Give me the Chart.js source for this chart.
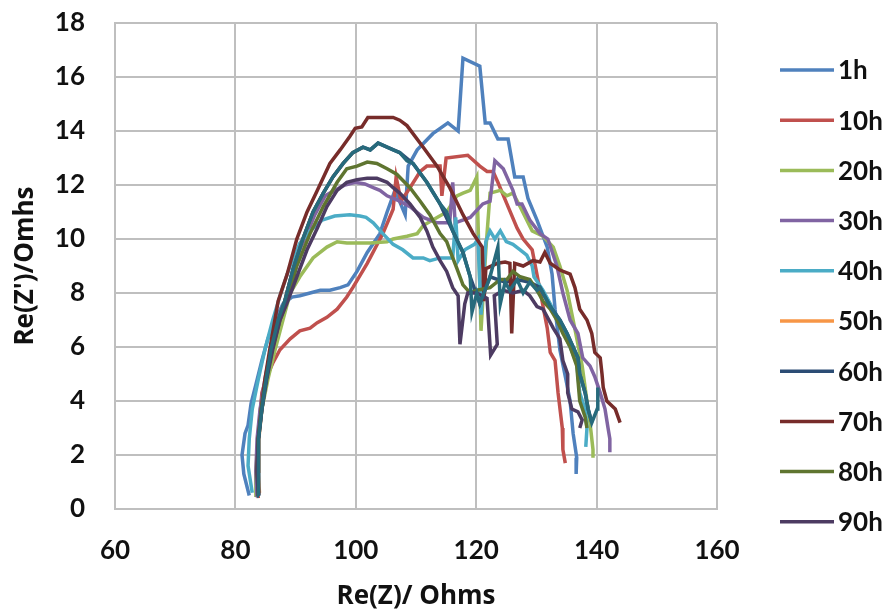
<!DOCTYPE html>
<html>
<head>
<meta charset="utf-8">
<script src="https://cdn.jsdelivr.net/npm/chart.js@4/dist/chart.umd.min.js"></script>
<style>
  html, body { margin: 0; padding: 0; background: #fff; }
  #wrap { width: 889px; height: 613px; }
</style>
</head>
<body>
<div id="wrap"><canvas id="chart" width="889" height="613"></canvas></div>
<script>
// series labels + colours (Excel 2010 palette)
const labels = ['1h', '10h', '20h', '30h', '40h', '50h', '60h', '70h', '80h', '90h', ''];
const colors = ['#4F81BD', '#C0504D', '#9BBB59', '#8064A2', '#4BACC6', '#F79646',
                '#2C4D75', '#772C2A', '#5F7530', '#4D3B62', '#276A7C'];

// axis ticks
const xTicks = [60, 80, 100, 120, 140, 160];
const yTicks = [0, 2, 4, 6, 8, 10, 12, 14, 16, 18];

// [Re(Z), Re(Z')]
const s1h = [[82.3,0.5],[81.4,1.3],[81.1,2.0],[81.6,2.8],[82.1,3.1],[82.6,3.9],[83.4,4.6],[84.4,5.5],
  [85.4,6.3],[86.6,7.0],[87.9,7.6],[89.4,7.85],[90.7,7.9],[92.4,8.0],[94.1,8.1],[95.7,8.1],[97.4,8.2],
  [98.7,8.3],[100.2,8.8],[101.9,9.5],[104.0,10.2],[105.2,11.0],[106.5,11.8],[108.2,10.9],[108.7,12.7],
  [110.2,13.3],[112.8,13.9],[115.3,14.3],[117.0,14.0],[117.8,16.7],[120.6,16.4],[121.5,14.3],[122.3,14.3],
  [123.6,13.7],[125.3,13.7],[126.4,12.3],[127.8,12.3],[128.6,11.5],[130.1,10.7],[131.8,9.7],[132.6,8.7],
  [133.1,7.4],[133.9,5.9],[134.9,4.8],[135.6,4.0],[136.1,2.8],[136.7,1.9],[136.6,1.3]];

const s10h = [[83.8,0.4],[83.6,1.4],[83.8,2.6],[84.1,3.5],[84.4,4.3],[85.2,4.9],[86.2,5.4],[87.4,5.9],
  [89.1,6.3],[90.7,6.6],[92.4,6.7],[93.6,6.9],[95.2,7.1],[96.9,7.4],[98.5,7.85],[99.5,8.2],[101.9,9.1],
  [104.5,10.2],[106.2,11.1],[106.7,12.3],[107.5,11.4],[109.0,11.9],[110.7,12.5],[111.8,12.7],[114.0,12.7],
  [114.3,11.6],[115.0,13.0],[118.6,13.1],[120.6,12.7],[121.8,12.5],[122.8,12.5],[123.6,12.1],[125.1,11.3],
  [126.8,10.4],[127.8,10.0],[129.3,9.6],[130.6,8.1],[131.8,6.7],[132.3,5.8],[133.1,5.5],[133.6,4.3],
  [134.3,3.0],[134.4,2.2],[134.8,1.7]];

const s20h = [[83.4,0.44],[83.4,1.4],[83.8,2.6],[84.4,3.7],[85.4,4.8],[86.6,5.9],[87.9,7.0],[89.1,8.0],
  [90.7,8.6],[92.9,9.3],[95.2,9.7],[96.9,9.9],[98.5,9.85],[100.2,9.85],[102.4,9.85],[105.2,9.9],[106.2,10.0],
  [108.5,10.1],[110.2,10.2],[111.2,10.5],[113.5,10.8],[115.1,11.0],[116.8,11.6],[117.8,11.7],[119.0,11.8],
  [120.1,12.3],[120.8,6.6],[121.6,9.6],[122.3,11.7],[124.0,11.8],[125.1,11.6],[126.1,11.7],[127.3,11.2],
  [129.3,10.3],[131.1,10.1],[132.8,9.7],[133.9,9.0],[135.1,8.1],[136.1,7.0],[136.9,6.1],[137.6,5.3],
  [138.4,4.0],[139.0,3.0],[139.4,2.2],[139.4,1.9]];

const s30h = [[83.6,0.44],[83.4,1.4],[83.6,2.6],[84.1,3.7],[84.9,4.8],[85.7,5.7],[86.9,6.6],[88.2,7.7],
  [89.6,8.9],[90.7,9.6],[92.1,10.3],[93.2,10.9],[94.9,11.6],[96.5,11.8],[98.2,12.0],[99.9,12.1],[101.5,12.04],
  [102.9,11.9],[104.0,11.8],[105.2,11.6],[107.3,11.4],[109.0,11.2],[111.2,10.8],[113.5,10.6],[115.6,10.6],
  [116.1,12.1],[116.5,10.6],[119.0,10.8],[121.1,11.3],[122.3,11.4],[123.1,12.9],[124.5,12.6],[126.1,11.8],
  [126.8,11.3],[127.6,11.3],[128.9,10.7],[130.6,10.2],[131.9,10.0],[133.4,9.0],[134.4,8.0],[135.6,7.0],
  [136.9,6.5],[137.7,5.6],[138.9,5.3],[139.7,4.9],[140.6,4.3],[141.4,3.7],[141.9,3.0],[142.2,2.6],[142.2,2.1]];

const s40h = [[82.8,0.6],[82.1,1.6],[82.3,2.6],[82.8,3.7],[83.8,4.8],[84.9,5.9],[86.2,7.0],[87.7,8.1],
  [89.1,9.0],[90.7,9.85],[92.4,10.3],[94.4,10.7],[96.5,10.85],[99.0,10.9],[100.7,10.85],[101.7,10.8],
  [102.9,10.6],[104.5,10.2],[106.2,9.8],[107.8,9.6],[109.5,9.3],[111.2,9.3],[112.3,9.2],[114.0,9.3],
  [116.1,9.3],[116.6,10.8],[117.0,9.2],[118.1,9.6],[119.7,9.8],[120.3,10.0],[120.8,7.2],[121.6,9.9],
  [122.3,10.3],[123.1,10.0],[124.0,10.3],[125.0,9.9],[126.1,9.8],[127.3,9.6],[128.4,9.4],[129.3,9.0],
  [129.6,8.6],[131.1,8.1],[132.3,7.6],[133.4,7.1],[134.4,6.6],[135.6,6.0],[136.7,5.4],[137.2,4.3],
  [138.1,3.7],[138.4,3.0],[138.2,2.3]];

// 50h and 60h lie underneath the top teal trace
const s50h = [[84.0,0.6],[83.8,1.4],[83.9,2.6],[84.4,3.7],[85.1,4.8],[85.9,5.9],[87.1,7.0],[88.2,7.7],
  [89.6,8.9],[91.2,10.0],[92.9,11.0],[94.6,11.7],[96.2,12.3],[97.9,12.8],[99.5,13.2],[101.2,13.4]];
const s60h = [[83.9,0.5],[83.8,1.4],[83.9,2.6],[84.4,3.7],[85.1,4.8],[85.9,5.9],[87.1,7.0],[88.2,7.7],
  [89.6,8.9],[91.2,10.0],[92.9,11.0],[94.6,11.7],[96.2,12.3],[97.9,12.8],[99.5,13.2],[101.2,13.4],
  [102.4,13.3],[103.7,13.55],[105.2,13.4],[107.3,13.2],[109.5,12.8],[111.8,12.1],[114.0,11.3],[116.1,10.3],
  [117.8,9.5],[119.0,8.6],[120.6,7.6],[122.3,8.6],[124.8,8.4],[126.8,8.5],[128.9,8.4],[130.6,8.2],
  [132.3,7.5],[133.9,7.0],[135.1,6.5],[136.1,6.0],[136.9,5.6],[137.2,5.0],[138.1,4.3],[138.6,3.7],[139.2,3.2]];

const s70h = [[83.9,0.52],[83.6,1.4],[83.8,2.6],[84.3,3.7],[84.9,4.8],[85.7,5.9],[87.1,7.7],[88.6,8.7],
  [90.2,10.0],[91.9,11.0],[93.6,11.8],[95.7,12.8],[97.4,13.3],[99.0,13.8],[99.9,14.1],[101.0,14.15],
  [102.0,14.5],[103.5,14.5],[105.2,14.5],[106.2,14.5],[107.3,14.4],[108.5,14.2],[111.2,13.4],[113.5,12.7],
  [115.6,11.9],[117.8,10.9],[119.5,10.2],[121.0,9.7],[121.3,7.7],[121.6,8.9],[123.5,9.1],[124.8,9.15],
  [125.6,9.1],[125.9,6.5],[126.4,9.1],[127.8,9.0],[129.4,9.2],[130.6,9.15],[131.4,9.5],[132.3,9.1],
  [133.9,8.85],[135.6,8.7],[136.4,8.2],[137.2,7.4],[138.4,7.0],[139.2,6.5],[139.7,5.8],[140.6,5.6],
  [140.9,5.0],[141.1,4.5],[141.7,4.0],[143.1,3.7],[143.9,3.2]];

const s80h = [[83.8,0.48],[83.6,1.4],[83.8,2.6],[84.3,3.7],[85.1,4.8],[86.1,5.9],[87.4,7.0],[88.6,7.7],
  [90.2,9.0],[92.4,10.2],[94.6,11.2],[96.9,12.1],[98.5,12.6],[100.2,12.7],[101.9,12.85],[103.5,12.8],
  [105.2,12.6],[106.8,12.4],[109.0,11.9],[110.7,11.4],[112.3,10.9],[114.0,10.2],[115.1,9.9],[115.6,9.6],
  [116.8,8.9],[117.8,8.3],[119.0,8.0],[120.1,8.1],[122.3,8.2],[124.0,8.5],[125.1,8.5],[126.1,8.8],
  [127.3,8.6],[128.9,8.5],[130.1,8.1],[131.1,7.7],[132.3,7.4],[133.4,7.0],[134.4,6.5],[135.6,6.0],
  [136.7,5.3],[137.2,4.0],[138.1,3.4],[138.4,3.0]];

const s90h = [[83.8,0.48],[83.6,1.4],[83.8,2.6],[84.4,3.7],[85.2,4.8],[86.2,5.9],[87.4,7.0],[88.7,7.7],
  [90.2,8.6],[91.9,9.6],[93.6,10.4],[95.2,11.2],[96.9,11.8],[98.5,12.1],[100.2,12.2],[101.9,12.25],
  [103.5,12.25],[105.2,12.1],[106.2,11.9],[107.3,11.7],[109.0,11.3],[110.7,10.8],[111.8,10.3],[112.8,9.7],
  [114.0,9.2],[115.1,8.8],[116.1,8.2],[117.0,7.9],[117.3,6.1],[118.1,7.6],[118.6,8.0],[120.1,8.0],
  [121.8,7.8],[122.4,5.7],[123.5,6.1],[123.0,7.9],[124.5,8.1],[126.1,8.0],[127.8,8.1],[128.9,7.9],
  [130.1,7.5],[131.1,7.4],[132.8,6.7],[133.9,6.3],[134.4,5.5],[135.2,5.0],[135.2,4.3],[135.9,3.7],
  [136.9,3.6],[137.6,3.3],[137.2,3.0]];

// teal trace drawn on top (no legend entry)
const sTeal = [[83.9,0.48],[83.8,1.4],[83.9,2.6],[84.4,3.7],[85.1,4.8],[85.9,5.9],[87.1,7.0],[88.2,7.7],
  [89.6,8.9],[91.2,10.0],[92.9,11.0],[94.6,11.7],[96.2,12.3],[97.9,12.8],[99.5,13.2],[101.2,13.4],
  [102.4,13.3],[103.7,13.55],[105.2,13.4],[106.2,13.3],[107.3,13.2],[108.5,12.9],[109.5,12.8],[111.8,12.1],
  [114.0,11.3],[115.1,11.0],[116.1,10.3],[117.8,9.5],[119.0,8.6],[119.3,7.3],[120.1,8.0],[120.6,7.6],
  [122.3,8.6],[123.6,9.7],[124.0,7.6],[124.8,8.4],[125.6,8.1],[126.8,8.5],[127.8,8.0],[128.9,8.4],
  [130.1,8.1],[130.6,8.2],[132.3,7.5],[133.9,7.0],[135.1,6.5],[136.1,6.0],[136.9,5.6],[137.2,5.0],
  [138.1,4.3],[138.6,3.7],[139.2,3.2],[140.1,3.7],[140.2,4.5]];

const series = [s1h, s10h, s20h, s30h, s40h, s50h, s60h, s70h, s80h, s90h, sTeal];

const FONT = 'Lato, "Open Sans", "DejaVu Sans", sans-serif';
const TITLE_FONT = '"Open Sans", Lato, sans-serif';

const datasets = series.map((pts, i) => ({
  label: labels[i],
  data: pts.map(p => ({ x: p[0], y: p[1] })),
  borderColor: colors[i],
  backgroundColor: colors[i],
  borderWidth: 3.5,
  pointRadius: 0,
  showLine: true,
  tension: 0,
  order: series.length - i   // later series on top, like Excel
}));

// legend drawn to the right of the plot
const sideLegend = {
  id: 'sideLegend',
  afterDraw(chart) {
    const ctx = chart.ctx;
    ctx.save();
    ctx.font = 'bold 26px ' + FONT;
    ctx.textBaseline = 'middle';
    ctx.fillStyle = '#111';
    chart.data.datasets.forEach((ds, i) => {
      if (!ds.label) return;
      const y = 70 + i * 50.2;
      ctx.strokeStyle = ds.borderColor;
      ctx.lineWidth = 3.5;
      ctx.beginPath();
      ctx.moveTo(780, y);
      ctx.lineTo(834, y);
      ctx.stroke();
      ctx.fillText(ds.label, 838, y + 1);
    });
    ctx.restore();
  }
};

new Chart(document.getElementById('chart'), {
  type: 'scatter',
  data: { datasets },
  options: {
    responsive: false,
    animation: false,
    events: [],
    layout: { padding: { top: 23, right: 172, bottom: 0, left: 0 } },
    plugins: { legend: { display: false }, tooltip: { enabled: false } },
    scales: {
      x: {
        min: 60, max: 160,
        afterBuildTicks: s => { s.ticks = xTicks.map(v => ({ value: v })); },
        afterFit: s => { s.height = 104; },
        grid: { color: '#BFBFBF', lineWidth: 2, drawTicks: false },
        border: { color: '#BFBFBF', width: 2 },
        ticks: { padding: 26, color: '#111', font: { family: FONT, size: 26, weight: 'bold' } },
        title: { display: true, text: 'Re(Z)/ Ohms', color: '#111',
                 font: { family: TITLE_FONT, size: 26, weight: 'bold' }, padding: { top: 0, bottom: 1 } }
      },
      y: {
        min: 0, max: 18,
        afterBuildTicks: s => { s.ticks = yTicks.map(v => ({ value: v })); },
        afterFit: s => { s.width = 115; s.paddingTop = 0; s.paddingBottom = 0; },
        grid: { color: '#BFBFBF', lineWidth: 2, drawTicks: false },
        border: { color: '#BFBFBF', width: 2 },
        ticks: { padding: 30, color: '#111', font: { family: FONT, size: 26, weight: 'bold' } },
        title: { display: true, text: "Re(Z')/Omhs", color: '#111',
                 font: { family: TITLE_FONT, size: 26, weight: 'bold' }, padding: { top: 10, bottom: 0 } }
      }
    }
  },
  plugins: [sideLegend]
});
</script>
</body>
</html>
